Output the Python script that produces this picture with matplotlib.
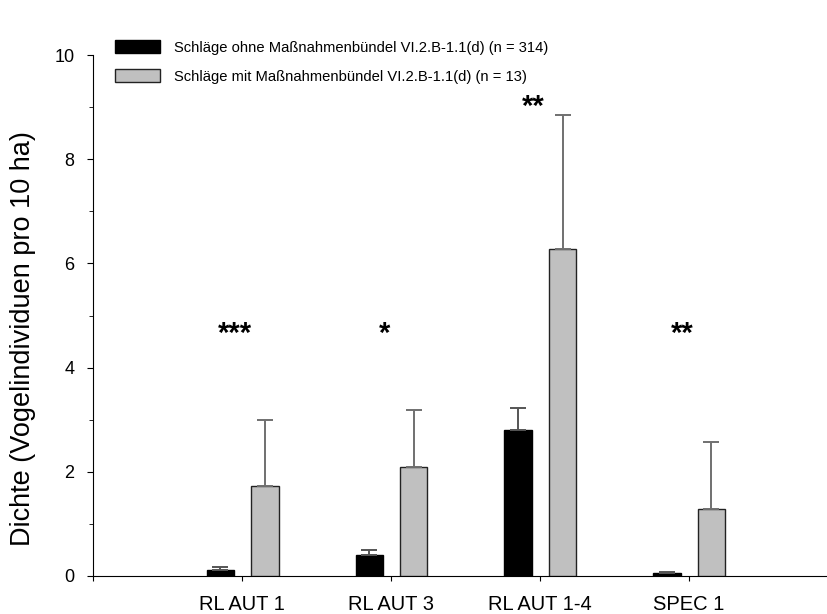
import matplotlib.pyplot as plt
import numpy as np
from matplotlib.ticker import MultipleLocator

plt.rcParams["font.family"] = ["Liberation Sans", "DejaVu Sans"]

categories = ["RL AUT 1", "RL AUT 3", "RL AUT 1-4", "SPEC 1"]
ohne = [0.12, 0.40, 2.80, 0.05]
ohne_err = [0.05, 0.10, 0.42, 0.03]
mit = [1.72, 2.10, 6.28, 1.28]
mit_err = [1.28, 1.09, 2.57, 1.29]
stars = ["***", "*", "**", "**"]
star_y = [4.38, 4.38, 8.74, 4.38]
labels = ["Schläge ohne Maßnahmenbündel VI.2.B-1.1(d) (n = 314)",
          "Schläge mit Maßnahmenbündel VI.2.B-1.1(d) (n = 13)"]

fig = plt.figure(figsize=(8.27, 6.14), dpi=100)
ax = fig.add_axes([0.1125, 0.0619, 1 - 0.1125, 0.8485])

x = np.arange(1, len(categories) + 1)
w = 0.185
ax.bar(x - 0.144, ohne, w, color="black", edgecolor="black", lw=1.0,
       yerr=[np.zeros(4), ohne_err], error_kw=dict(ecolor="#555555", elinewidth=1.4,
                                                    capsize=5.8, capthick=1.4),
       label=labels[0], zorder=3)
ax.bar(x + 0.154, mit, w, color="#c0c0c0", edgecolor="#222222", lw=1.0,
       yerr=[np.zeros(4), mit_err], error_kw=dict(ecolor="#707070", elinewidth=1.4,
                                                  capsize=5.8, capthick=1.4),
       label=labels[1], zorder=3)

for xi, s, yy in zip(x, stars, star_y):
    ax.text(xi - 0.045, yy, s, ha="center", va="bottom", fontsize=21, fontweight="bold")

ax.set_xlim(0, 4.93)
ax.set_ylim(0, 10)
ax.set_yticks(range(0, 11, 2))
ax.yaxis.set_minor_locator(MultipleLocator(1))
ax.set_xticks(range(0, 5))
ax.set_xticklabels([""] + categories, fontsize=14.5)
ax.tick_params(axis="y", which="major", labelsize=13, length=4.5, direction="out", pad=9)
ax.tick_params(axis="y", which="minor", length=3, direction="out")
ax.tick_params(axis="x", length=3.5, direction="out", pad=10)
ax.spines["top"].set_visible(False)
ax.spines["right"].set_visible(False)
ax.set_ylabel("Dichte (Vogelindividuen pro 10 ha)", fontsize=19.5)
ax.yaxis.set_label_coords(-0.078, (576 - 339) / 521)

fig.legend(loc="upper left", bbox_to_anchor=(0.139, 0.935), frameon=False, fontsize=10.6,
           handlelength=3.06, handleheight=1.0, labelspacing=1.0, handletextpad=0.95,
           borderaxespad=0, borderpad=0)

fig.savefig("out.png", dpi=100)
